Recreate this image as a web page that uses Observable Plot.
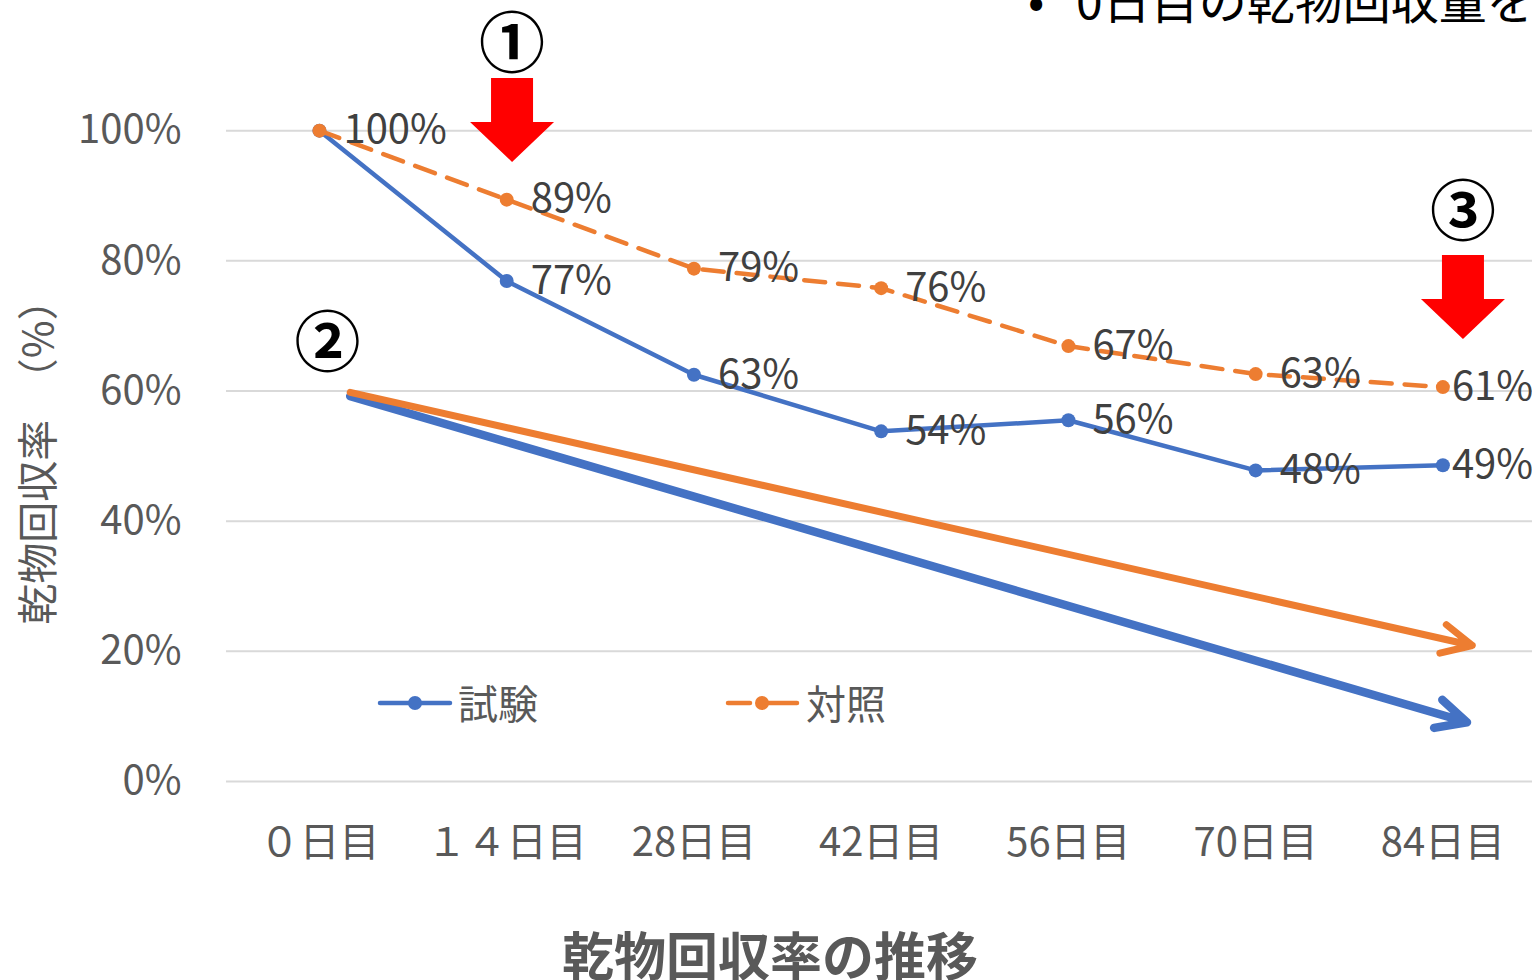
<!DOCTYPE html>
<html><head><meta charset="utf-8">
<script src="https://cdn.jsdelivr.net/npm/d3@7"></script>
<script src="https://cdn.jsdelivr.net/npm/@observablehq/plot@0.6"></script>
<style>
html,body{margin:0;padding:0;background:#fff;overflow:hidden;width:1532px;height:980px;}
body{position:relative;font-family:"Noto Sans CJK JP","Noto Sans",sans-serif;}
#chart{position:absolute;left:0;top:0;}
.abs{position:absolute;white-space:nowrap;line-height:1;}
</style></head><body>
<div id="chart"></div>
<script>
// ---- data ----
const days = [0, 14, 28, 42, 56, 70, 84];
const dayLabels = ["０日目", "１４日目", "28日目", "42日目", "56日目", "70日目", "84日目"];
const testValues = [100, 76.9, 62.5, 53.8, 55.5, 47.8, 48.6];     // 試験
const controlValues = [100, 89.4, 78.8, 75.8, 66.9, 62.6, 60.6];  // 対照
const seriesNames = ["試験", "対照"];
const yTicks = [0, 20, 40, 60, 80, 100];
// trend arrows (②): start/end in (day, %)
const trendSeries = ["試験", "対照"];
const trendX1 = [2.3, 2.3];
const trendY1 = [59.2, 59.8];
const trendX2 = [85.8, 86.2];
const trendY2 = [9.1, 20.9];
// callouts
const calloutLabels = ["①", "②", "③"];
const calloutX = [14.4, 0.6, 85.5];
const calloutY = [113.1, 67.1, 87.2];
const redArrowX = [14.4, 85.5];
const redArrowTop = [108.1, 80.9];

const title = "乾物回収率の推移";
const yTitle = "乾物回収率　（%）";
const topBullet = "•";
const topNote = "0日目の乾物回収量を";

// ---- build ----
const BLUE = "#4472C4", ORANGE = "#ED7D31";
const testRows = days.map((d, i) => ({day: d, v: testValues[i]}));
const ctrlRows = days.map((d, i) => ({day: d, v: controlValues[i]}));
const trends = trendSeries.map((s, i) => ({s, x1: trendX1[i], y1: trendY1[i], x2: trendX2[i], y2: trendY2[i]}));
const callouts = calloutLabels.map((t, i) => ({t, x: calloutX[i], y: calloutY[i]}));
const redArrows = redArrowX.map((x, i) => ({x, y: redArrowTop[i]}));
const lastDay = days[days.length - 1];

const blockArrow = {
  draw(ctx, l) {
    const sw = 21, hw = 42, hh = 40;
    ctx.moveTo(-sw, 0);
    ctx.lineTo(sw, 0);
    ctx.lineTo(sw, -(l - hh));
    ctx.lineTo(hw, -(l - hh));
    ctx.lineTo(0, -l);
    ctx.lineTo(-hw, -(l - hh));
    ctx.lineTo(-sw, -(l - hh));
    ctx.closePath();
  }
};

const labelOpts = (dx) => ({x: "day", y: "v", text: d => Math.round(d.v) + "%", dx, textAnchor: "start", fill: "#404040", fontSize: 40});

const font = "'Noto Sans CJK JP','Noto Sans',sans-serif";
const plot = Plot.plot({
  width: 1532,
  height: 900,
  marginLeft: 226,
  marginRight: 0,
  marginTop: 0,
  marginBottom: 119,
  style: {fontFamily: font, fontSize: "40px", color: "#595959", background: "white"},
  x: {type: "linear", domain: [-6.95, 90.7]},
  y: {domain: [0, 120]},
  marks: [
    Plot.gridY(yTicks, {stroke: "#d9d9d9", strokeOpacity: 1, strokeWidth: 2}),
    Plot.axisY(yTicks, {tickSize: 0, tickPadding: 45, tickFormat: d => d + "%", fill: "#595959", fontSize: 40, label: null}),
    Plot.axisX(days, {tickSize: 0, tickPadding: 46, tickFormat: d => dayLabels[days.indexOf(d)], fill: "#595959", fontSize: 40, label: null}),
    Plot.arrow(trends, {x1: "x1", y1: "y1", x2: "x2", y2: "y2",
      stroke: d => d.s === "試験" ? BLUE : ORANGE,
      strokeWidth: d => d.s === "試験" ? 8.5 : 7, headLength: 50, headAngle: 52,
      strokeLinecap: "round"}),
    Plot.line(testRows, {x: "day", y: "v", stroke: BLUE, strokeWidth: 4.5}),
    Plot.dot(testRows, {x: "day", y: "v", r: 7, fill: BLUE}),
    Plot.line(ctrlRows, {x: "day", y: "v", stroke: ORANGE, strokeWidth: 4.5, strokeDasharray: "21,13"}),
    Plot.dot(ctrlRows, {x: "day", y: "v", r: 7, fill: ORANGE}),
    Plot.text(testRows.filter((d, i) => i > 0 && d.day !== lastDay), labelOpts(24)),
    Plot.text(testRows.filter(d => d.day === lastDay), labelOpts(9)),
    Plot.text(ctrlRows.filter(d => d.day !== lastDay), labelOpts(24)),
    Plot.text(ctrlRows.filter(d => d.day === lastDay), labelOpts(9)),
    Plot.vector(redArrows, {x: "x", y: "y", length: 84, rotate: 180, anchor: "start", shape: blockArrow, fill: "#FF0000", stroke: "none"}),
    Plot.text(callouts, {x: "x", y: "y", text: "t", fontSize: 66, fontWeight: "bold", fill: "#000"})
  ]
});
document.getElementById("chart").appendChild(plot);

// y-axis title
const yt = document.createElement("div");
yt.className = "abs";
yt.textContent = yTitle;
yt.style.cssText += "font-size:41px;color:#595959;left:35px;top:452px;transform:translate(-50%,-50%) rotate(-90deg);";
document.body.appendChild(yt);

// chart title
const tt = document.createElement("div");
tt.className = "abs";
tt.textContent = title;
tt.style.cssText += "font-size:52px;font-weight:bold;color:#595959;left:770px;top:928px;transform:translateX(-50%);";
document.body.appendChild(tt);

// top note (cut off)
const tb = document.createElement("div");
tb.className = "abs";
tb.textContent = topBullet;
tb.style.cssText += "font-size:48px;color:#000;left:1028px;top:-26px;";
document.body.appendChild(tb);
const tn = document.createElement("div");
tn.className = "abs";
tn.textContent = topNote;
tn.style.cssText += "font-size:48px;color:#000;left:1076px;top:-26px;";
document.body.appendChild(tn);

// legend
const legend = document.createElement("div");
legend.className = "abs";
legend.style.cssText += "left:380px;top:680px;";
const lsvg = `<svg width="520" height="48" style="position:absolute;left:0;top:0;overflow:visible">
  <line x1="0" y1="23" x2="70" y2="23" stroke="${BLUE}" stroke-width="4.5" stroke-linecap="round"/>
  <circle cx="35" cy="23" r="7" fill="${BLUE}"/>
  <line x1="348" y1="23" x2="370" y2="23" stroke="${ORANGE}" stroke-width="4.5" stroke-linecap="round"/>
  <line x1="380" y1="23" x2="417" y2="23" stroke="${ORANGE}" stroke-width="4.5" stroke-linecap="round"/>
  <circle cx="382" cy="23" r="7" fill="${ORANGE}"/>
</svg>`;
legend.innerHTML = lsvg +
  `<span style="position:absolute;left:78px;top:2px;font-size:40px;color:#595959">${seriesNames[0]}</span>` +
  `<span style="position:absolute;left:426px;top:2px;font-size:40px;color:#595959">${seriesNames[1]}</span>`;
document.body.appendChild(legend);
</script>
</body></html>
